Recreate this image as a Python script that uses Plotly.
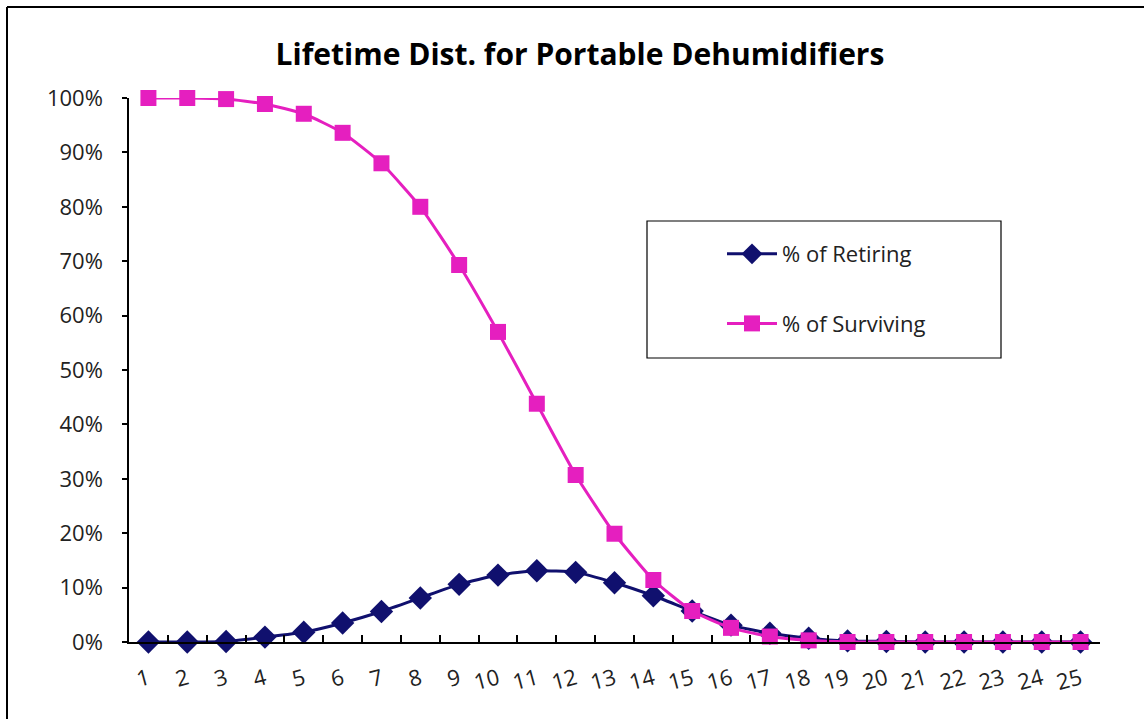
import plotly.graph_objects as go

years = [str(i) for i in range(1, 26)]
retiring = [0.000, 0.000, 0.001, 0.009, 0.018, 0.035, 0.056, 0.081, 0.106, 0.123, 0.131, 0.128,
            0.109, 0.085, 0.057, 0.031, 0.016, 0.007, 0.002, 0.001, 0.0, 0.0, 0.0, 0.0, 0.0]
surviving = [1.000, 1.000, 0.998, 0.989, 0.971, 0.936, 0.880, 0.800, 0.693, 0.570, 0.438, 0.307,
             0.199, 0.114, 0.057, 0.026, 0.010, 0.003, 0.0, 0.0, 0.0, 0.0, 0.0, 0.0, 0.0]
y_ticks = [i / 10 for i in range(11)]

W, H = 1144, 719
L, R, T, B = 129, 44, 98, 77
pw = W - L - R
ph = H - T - B

def px(x):
    return (x - L) / pw

def py(y):
    return (H - B - y) / ph

NAVY = "#10106E"
MAG = "#E51FBF"
FONT = "Open Sans"

fig = go.Figure()
fig.add_trace(go.Scatter(
    x=years, y=retiring, name="% of Retiring", mode="lines+markers",
    line=dict(color=NAVY, width=3, shape="spline", smoothing=0.5),
    marker=dict(symbol="diamond", size=18, color=NAVY),
    cliponaxis=False, legendgroup="a",
))
fig.add_trace(go.Scatter(
    x=years, y=surviving, name="% of Surviving", mode="lines+markers",
    line=dict(color=MAG, width=3, shape="spline", smoothing=0.5),
    marker=dict(symbol="square", size=16, color=MAG),
    cliponaxis=False, legendgroup="b",
))

fig.update_layout(
    width=W, height=H,
    margin=dict(l=L, r=R, t=T, b=B, pad=0),
    paper_bgcolor="white", plot_bgcolor="white",
    title=dict(text="<b>Lifetime Dist. for Portable Dehumidifiers</b>",
               x=px(580), xanchor="center", xref="paper",
               y=1 - 54 / H, yanchor="middle", yref="container",
               font=dict(family=FONT, size=30, color="black")),
    font=dict(family=FONT, color="#222222"),
    showlegend=True,
    legend=dict(x=px(722), y=py(233), xanchor="left", yanchor="top",
                bgcolor="rgba(0,0,0,0)", borderwidth=0,
                font=dict(family=FONT, size=22, color="#222222"),
                tracegroupgap=38, itemwidth=50, traceorder="grouped"),
    xaxis=dict(type="category", range=[-0.5, 24.5], tickson="boundaries",
               ticks="inside", ticklen=7, tickcolor="black", tickwidth=1.5,
               showline=True, linecolor="black", linewidth=1.5,
               showgrid=False, zeroline=False, tickangle=-15,
               ticklabelstandoff=14,
               tickfont=dict(family=FONT, size=22, color="#222222")),
    yaxis=dict(range=[0, 1], tickvals=y_ticks, tickformat=".0%",
               ticks="outside", ticklen=5, tickcolor="black", tickwidth=1.5,
               showline=True, linecolor="black", linewidth=1.5,
               showgrid=False, zeroline=False, ticklabelstandoff=15,
               tickfont=dict(family=FONT, size=22, color="#222222")),
    shapes=[
        dict(type="rect", xref="paper", yref="paper",
             x0=px(647), x1=px(1001), y0=py(358), y1=py(221),
             line=dict(color="black", width=1.2), fillcolor="rgba(0,0,0,0)"),
        dict(type="line", xref="paper", yref="paper",
             x0=px(7), x1=px(1150), y0=py(7), y1=py(7),
             line=dict(color="black", width=2)),
        dict(type="line", xref="paper", yref="paper",
             x0=px(7), x1=px(7), y0=py(7), y1=py(725),
             line=dict(color="black", width=2)),
    ],
)

fig.write_html("out.html")
